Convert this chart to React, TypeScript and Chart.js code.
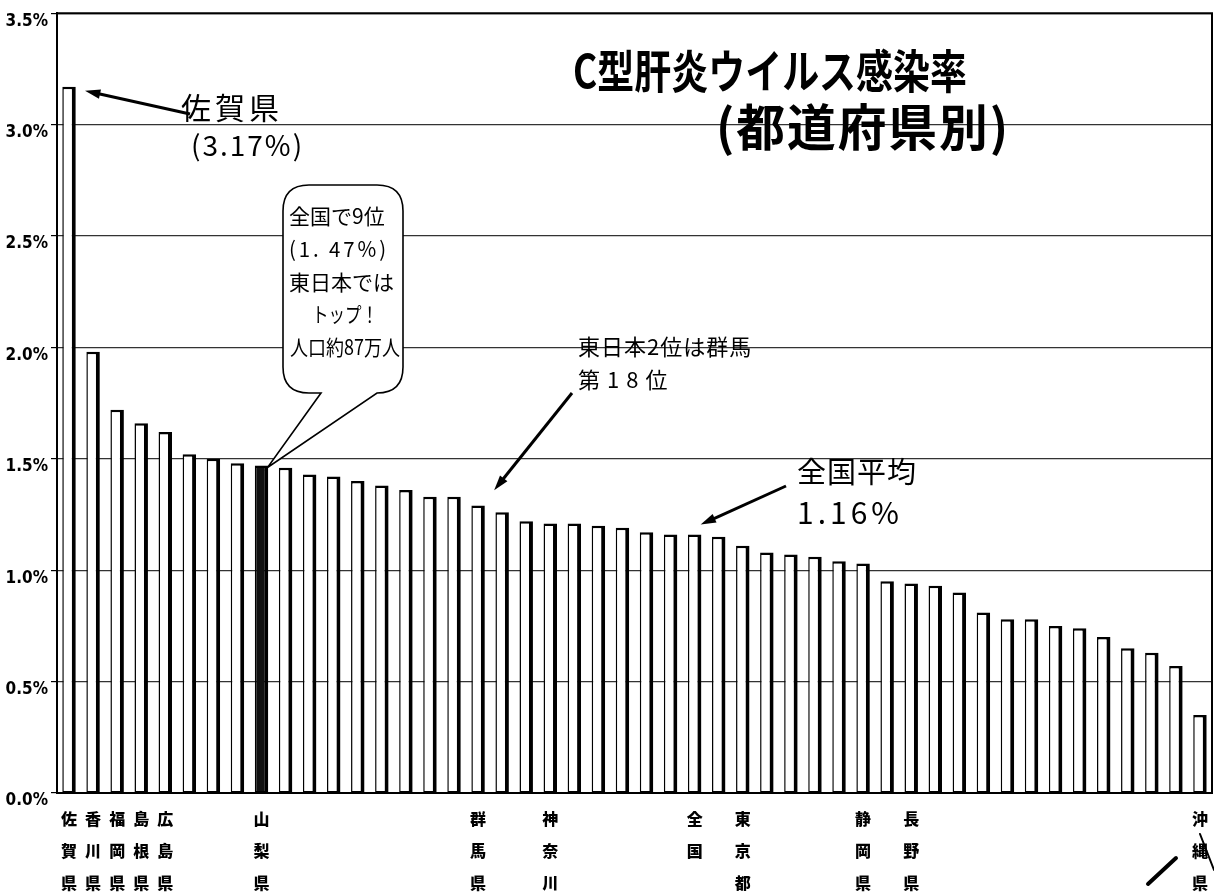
import React, { useEffect, useRef } from "react";
import { Chart, registerables } from "chart.js";

Chart.register(...registerables);

// ---- data ----
const categories: string[][] = [
  ["佐", "賀", "県"], ["香", "川", "県"], ["福", "岡", "県"], ["島", "根", "県"], ["広", "島", "県"],
  [""], [""], [""], ["山", "梨", "県"], [""],
  [""], [""], [""], [""], [""],
  [""], [""], ["群", "馬", "県"], [""], [""],
  ["神", "奈", "川"], [""], [""], [""], [""],
  [""], ["全", "国"], [""], ["東", "京", "都"], [""],
  [""], [""], [""], ["静", "岡", "県"], [""],
  ["長", "野", "県"], [""], [""], [""], [""],
  [""], [""], [""], [""], [""],
  [""], [""], ["沖", "縄", "県"],
];

const infectionRate: number[] = [
  3.17, 1.98, 1.72, 1.66, 1.62, 1.52, 1.5, 1.48, 1.47, 1.46,
  1.43, 1.42, 1.4, 1.38, 1.36, 1.33, 1.33, 1.29, 1.26, 1.22,
  1.21, 1.21, 1.2, 1.19, 1.17, 1.16, 1.16, 1.15, 1.11, 1.08,
  1.07, 1.06, 1.04, 1.03, 0.95, 0.94, 0.93, 0.9, 0.81, 0.78,
  0.78, 0.75, 0.74, 0.7, 0.65, 0.63, 0.57, 0.35,
];

const highlightIndex = 8; // 山梨県
const sagaIndex = 0;
const gunmaIndex = 18;
const nationalIndex = 26;

const yTicks: number[] = [0, 0.5, 1.0, 1.5, 2.0, 2.5, 3.0, 3.5];

const titleLine1 = "C型肝炎ウイルス感染率";
const titleLine2 = "(都道府県別)";
const sagaNote = ["佐賀県", "(3.17%)"];
const bubbleNote = ["全国で9位", "(1. 47%)", "東日本では", "トップ！", "人口約87万人"];
const gunmaNote = ["東日本2位は群馬", "第18位"];
const averageNote = ["全国平均", "1.16%"];

const JP = '"Noto Sans CJK JP", "Noto Sans", sans-serif';

function arrow(ctx: CanvasRenderingContext2D, x1: number, y1: number, x2: number, y2: number, w = 3, head = 14) {
  const ang = Math.atan2(y2 - y1, x2 - x1);
  ctx.save();
  ctx.strokeStyle = "#000";
  ctx.fillStyle = "#000";
  ctx.lineWidth = w;
  ctx.beginPath();
  ctx.moveTo(x1, y1);
  ctx.lineTo(x2 - Math.cos(ang) * head * 0.8, y2 - Math.sin(ang) * head * 0.8);
  ctx.stroke();
  ctx.beginPath();
  ctx.moveTo(x2, y2);
  ctx.lineTo(x2 - head * Math.cos(ang - 0.3), y2 - head * Math.sin(ang - 0.3));
  ctx.lineTo(x2 - head * Math.cos(ang + 0.3), y2 - head * Math.sin(ang + 0.3));
  ctx.closePath();
  ctx.fill();
  ctx.restore();
}

function text(ctx: any, s: string, x: number, y: number, font: string, spacing = 0, maxW?: number) {
  ctx.font = font;
  ctx.letterSpacing = spacing + "px";
  if (maxW) ctx.fillText(s, x, y, maxW);
  else ctx.fillText(s, x, y);
  ctx.letterSpacing = "0px";
}

const annotationPlugin = {
  id: "annotations",
  afterDraw(chart: any) {
    const ctx: CanvasRenderingContext2D = chart.ctx;
    const xs = chart.scales.x;
    const ys = chart.scales.y;
    const area = chart.chartArea;
    ctx.save();
    // frame top & right
    ctx.strokeStyle = "#000";
    ctx.lineWidth = 2;
    ctx.beginPath();
    ctx.moveTo(area.left, area.top);
    ctx.lineTo(area.right, area.top);
    ctx.lineTo(area.right, area.bottom);
    ctx.stroke();

    ctx.fillStyle = "#000";
    ctx.textBaseline = "middle";
    ctx.textAlign = "left";
    // title
    text(ctx, titleLine1, 573, 71, `bold 46px ${JP}`, 0, 394);
    text(ctx, titleLine2, 716, 127, `bold 50px ${JP}`, 2, 294);

    // Saga note
    text(ctx, sagaNote[0], 181, 108, `400 30px ${JP}`, 4);
    text(ctx, sagaNote[1], 191, 145, `400 28px ${JP}`, 2);
    const sx = xs.getPixelForValue(sagaIndex) + 16;
    const sy = ys.getPixelForValue(infectionRate[sagaIndex]) + 4;
    arrow(ctx, 190, 114, sx, sy, 3, 16);

    // bubble
    const bx = 283, by = 185, bw = 120, bh = 208, r = 26;
    const tipX = xs.getPixelForValue(highlightIndex) + 6;
    const tipY = ys.getPixelForValue(infectionRate[highlightIndex]) + 2;
    ctx.lineWidth = 1.6;
    ctx.strokeStyle = "#000";
    ctx.fillStyle = "#fff";
    ctx.beginPath();
    ctx.moveTo(bx + r, by);
    ctx.lineTo(bx + bw - r, by);
    ctx.quadraticCurveTo(bx + bw, by, bx + bw, by + r);
    ctx.lineTo(bx + bw, by + bh - r);
    ctx.quadraticCurveTo(bx + bw, by + bh, bx + bw - r, by + bh);
    ctx.lineTo(bx + 94, by + bh);
    ctx.lineTo(tipX, tipY);
    ctx.lineTo(bx + 38, by + bh);
    ctx.lineTo(bx + r, by + bh);
    ctx.quadraticCurveTo(bx, by + bh, bx, by + bh - r);
    ctx.lineTo(bx, by + r);
    ctx.quadraticCurveTo(bx, by, bx + r, by);
    ctx.closePath();
    ctx.fill();
    ctx.stroke();
    ctx.fillStyle = "#000";
    const bf = `400 21px ${JP}`;
    const bl = [216, 249, 282, 314, 347];
    text(ctx, bubbleNote[0], 289, bl[0], bf);
    text(ctx, bubbleNote[1], 289, bl[1], bf, 3, 100);
    text(ctx, bubbleNote[2], 289, bl[2], bf);
    text(ctx, bubbleNote[3], 312, bl[3], bf, 0, 66);
    text(ctx, bubbleNote[4], 290, bl[4], bf, 0, 110);

    // Gunma note
    text(ctx, gunmaNote[0], 578, 347, `400 22px ${JP}`, 1);
    text(ctx, gunmaNote[1], 578, 380, `400 22px ${JP}`, 7);
    const gx = xs.getPixelForValue(gunmaIndex) - 8;
    const gy = ys.getPixelForValue(infectionRate[gunmaIndex]) - 22;
    arrow(ctx, 572, 393, gx, gy, 3, 16);

    // national average note
    text(ctx, averageNote[0], 797, 472, `400 29px ${JP}`, 1);
    text(ctx, averageNote[1], 797, 513, `400 30px ${JP}`, 4);
    const nx = xs.getPixelForValue(nationalIndex) + 6;
    const ny = ys.getPixelForValue(infectionRate[nationalIndex]) - 10;
    arrow(ctx, 786, 486, nx, ny, 3, 16);

    // pen strokes near Okinawa
    ctx.strokeStyle = "#000";
    ctx.lineCap = "round";
    ctx.lineWidth = 4;
    ctx.beginPath();
    ctx.moveTo(1148, 884);
    ctx.lineTo(1176, 858);
    ctx.stroke();
    ctx.lineWidth = 2;
    ctx.beginPath();
    ctx.moveTo(1200, 834);
    ctx.lineTo(1214, 870);
    ctx.stroke();
    ctx.restore();
  },
};

export default function App() {
  const ref = useRef<HTMLCanvasElement | null>(null);
  useEffect(() => {
    document.body.style.margin = "0";
    document.body.style.background = "#fff";
    if (!ref.current) return;
    const chart = new Chart(ref.current, {
      type: "bar",
      data: {
        labels: categories,
        datasets: [
          {
            data: infectionRate,
            backgroundColor: infectionRate.map((_, i) => (i === highlightIndex ? "#111" : "#fff")),
            borderColor: "#000",
            borderWidth: { left: 1.5, right: 4, top: 2.5, bottom: 1.5 },
            borderSkipped: false,
            barPercentage: 0.56,
            categoryPercentage: 1,
          },
        ],
      },
      options: {
        animation: false,
        responsive: true,
        maintainAspectRatio: false,
        layout: { padding: { top: 9, right: 2, left: 0, bottom: 0 } },
        plugins: { legend: { display: false }, tooltip: { enabled: false }, title: { display: false } },
        scales: {
          x: {
            grid: { display: false },
            border: { display: true, color: "#000", width: 2 },
            ticks: {
              autoSkip: false,
              maxRotation: 0,
              minRotation: 0,
              padding: 2,
              color: "#000",
              font: { family: JP, size: 16, weight: "900", lineHeight: 2.0 },
            },
            afterFit: (s: any) => {
              s.height = 99;
            },
          },
          y: {
            min: 0,
            max: 3.5,
            afterBuildTicks: (s: any) => {
              s.ticks = yTicks.map((v) => ({ value: v }));
            },
            ticks: {
              labelOffset: 8,
              padding: 3,
              color: "#000",
              callback: (v: any) => Number(v).toFixed(1) + "%",
              font: { family: '"Liberation Sans Narrow", "DejaVu Sans Condensed", sans-serif', size: 17, weight: "bold" },
            },
            grid: { color: "#333", lineWidth: 1.2, drawTicks: true, tickLength: 6, tickColor: "#000" },
            border: { display: true, color: "#000", width: 2 },
            afterFit: (s: any) => {
              s.width = 57;
            },
          },
        },
      },
      plugins: [annotationPlugin],
    });
    return () => chart.destroy();
  }, []);
  return (
    <div style={{ position: "absolute", left: 0, top: 0, width: 1214, height: 892, background: "#fff" }}>
      <canvas ref={ref} />
    </div>
  );
}
